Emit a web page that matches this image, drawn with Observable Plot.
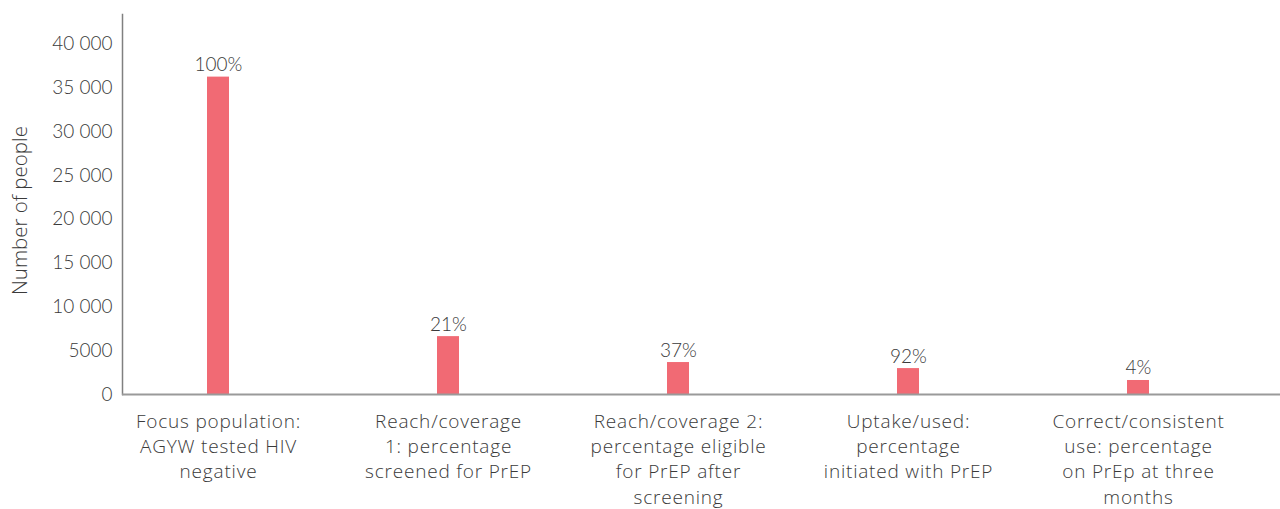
<!DOCTYPE html>
<html>
<head>
<meta charset="utf-8">
<script src="https://cdn.jsdelivr.net/npm/d3@7"></script>
<script src="https://cdn.jsdelivr.net/npm/@observablehq/plot@0.6"></script>
<style>
  html, body { margin: 0; padding: 0; background: #fff; }
  #chart svg { display: block; }
  g[aria-label="x-axis tick label"] text { letter-spacing: 0.8px; }
</style>
</head>
<body>
<div id="chart"></div>
<script>
const categories = [
  "Focus population:\nAGYW tested HIV\nnegative",
  "Reach/coverage\n1: percentage\nscreened for PrEP",
  "Reach/coverage 2:\npercentage eligible\nfor PrEP after\nscreening",
  "Uptake/used:\npercentage\ninitiated with PrEP",
  "Correct/consistent\nuse: percentage\non PrEp at three\nmonths"
];
const people = [36250, 6610, 3650, 2960, 1600];
const percentLabels = ["100%", "21%", "37%", "92%", "4%"];
const yTicks = [0, 5000, 10000, 15000, 20000, 25000, 30000, 35000, 40000];
const yTickLabels = ["0", "5000", "10 000", "15 000", "20 000", "25 000", "30 000", "35 000", "40 000"];

const data = categories.map((c, i) => ({category: c, value: people[i], label: percentLabels[i]}));

const textColor = "#3a3a3a";
const barColor = "#F16A74";
const font = "Lato, 'Open Sans', sans-serif";
const wideFont = "'Open Sans', Lato, sans-serif";

const chart = Plot.plot({
  width: 1280,
  height: 509,
  marginTop: 14,
  marginBottom: 115,
  marginLeft: 122,
  marginRight: 0,
  style: {fontFamily: font, fontSize: "19px", fontWeight: 300, color: textColor, background: "#fff"},
  x: {
    domain: categories,
    paddingInner: 0.905,
    paddingOuter: 0.467,
    align: 0.395,
    label: null
  },
  y: {
    domain: [0, 43400],
    label: null
  },
  marks: [
    Plot.barY(data, {x: "category", y: "value", fill: barColor}),
    Plot.text(data, {x: "category", y: "value", text: "label", lineAnchor: "bottom", dy: -6, fill: textColor, fontSize: 19, fontWeight: 300}),
    Plot.frame({anchor: "left", stroke: "#808080", strokeWidth: 1.5}),
    Plot.ruleY([0], {stroke: "#9a9a9a", strokeWidth: 2}),
    Plot.axisY({
      ticks: yTicks,
      tickFormat: d => yTickLabels[yTicks.indexOf(d)],
      tickSize: 0,
      tickPadding: 10,
      fontSize: 19,
      fontWeight: 300,
      fill: textColor,
      label: null
    }),
    Plot.text(["Number of people"], {
      frameAnchor: "left",
      textAnchor: "middle",
      rotate: -90,
      dx: -102,
      dy: 6,
      fill: textColor,
      fontSize: 20.5,
      fontWeight: 300,
      fontFamily: wideFont
    }),
    Plot.axisX({
      tickSize: 0,
      tickPadding: 15,
      lineHeight: 1.34,
      fontSize: 19,
      fontWeight: 300,
      fontFamily: wideFont,
      fill: textColor,
      label: null
    })
  ]
});
document.getElementById("chart").appendChild(chart);
</script>
</body>
</html>
